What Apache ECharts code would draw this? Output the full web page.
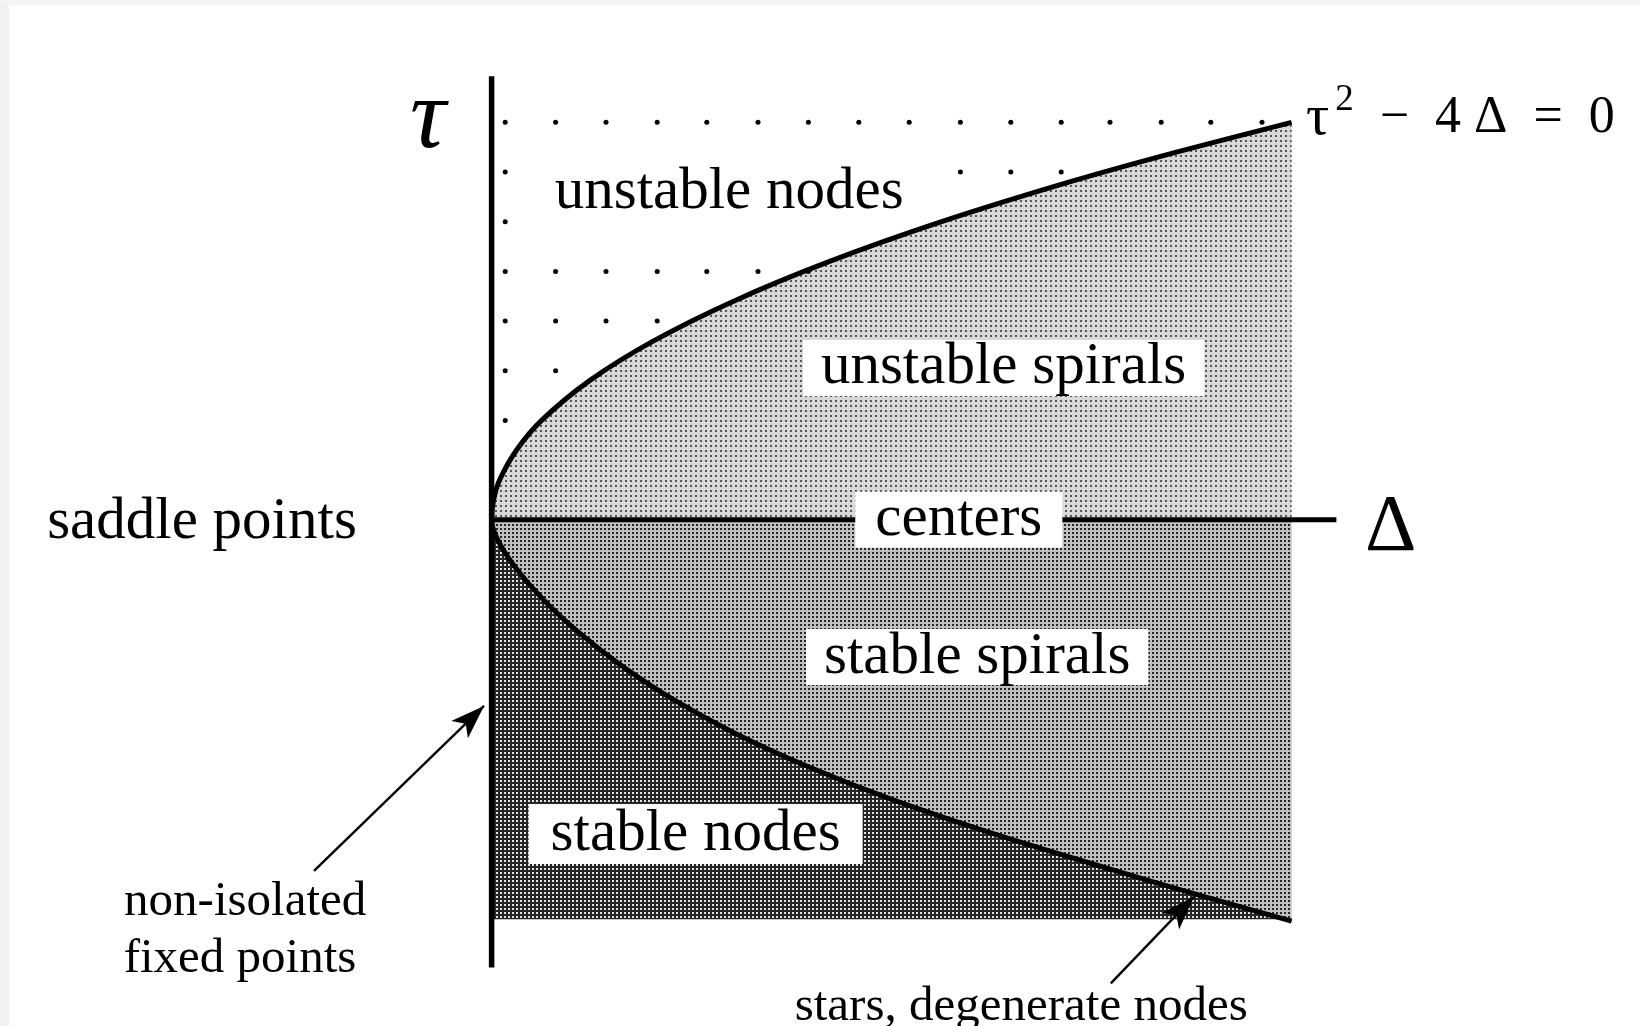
<!DOCTYPE html>
<html>
<head>
<meta charset="utf-8">
<script src="https://cdn.jsdelivr.net/npm/echarts@6/dist/echarts.min.js"></script>
<style>
  html, body { margin: 0; padding: 0; background: #ffffff; }
  #chart { width: 1640px; height: 1026px; }
</style>
</head>
<body>
<div id="chart"></div>
<script>
// ---- data (Δ on x, τ on y) ----
const upperTau   = [0, 0.1, 0.2, 0.35, 0.5, 0.7, 0.9, 1.1, 1.3, 1.5, 1.7, 1.85, 2.0];
const upperDelta = [0, 0.0025, 0.01, 0.031, 0.0625, 0.1225, 0.2025, 0.3025, 0.4225, 0.5625, 0.7225, 0.856, 1.0];
const lowerTau   = [0, -0.1, -0.236, -0.404, -0.571, -0.739, -0.907, -1.074, -1.243, -1.41, -1.58, -1.75, -1.898, -2.02];
const lowerDelta = [0, 0.0075, 0.029, 0.065, 0.110, 0.164, 0.228, 0.304, 0.396, 0.502, 0.627, 0.766, 0.892, 1.0];
const regionRight = 1.0;        // right edge of shaded regions (Δ)
const regionBottom = -2.01;     // bottom edge of stable-node region (τ)
const tauAxisExtent = [-2.253, 2.232];
const deltaAxisExtent = [0, 1.056];

// dot texture of the unstable-node region
const dotRowTau   = [2.0, 1.75, 1.5, 1.25, 1.0, 0.75, 0.5];
const dotRowCount = [16, 12, 9, 7, 4, 2, 1];
const dotColDelta = [0.017, 0.080, 0.143, 0.207, 0.269, 0.333, 0.396, 0.459, 0.522, 0.586, 0.649, 0.712, 0.773, 0.837, 0.899, 0.963];

// labels
const labelTexts = ['unstable nodes', 'unstable spirals', 'centers', 'stable spirals', 'stable nodes',
                    'saddle points', 'non-isolated', 'fixed points', 'stars, degenerate nodes', 'τ', 'Δ', 'formula'];
const labelDelta = [0.292, 0.640, 0.584, 0.607, 0.255, -0.362, -0.308, -0.3145, 0.662, -0.0795, 1.124, 1.211];
const labelTau   = [1.645, 0.764, 0.0, -0.691, -1.582, -0.016, -1.924, -2.210, -2.452, 2.01, -0.045, 2.02];

// arrows
const arrowTail = [[-0.222, -1.767], [0.774, -2.333]];
const arrowTip  = [[-0.0095, -0.937], [0.878, -1.897]];

// ---- helpers ----
function makePattern(size, bg, dot, dotSize) {
  const c = document.createElement('canvas');
  c.width = size; c.height = size;
  const g = c.getContext('2d');
  g.fillStyle = bg; g.fillRect(0, 0, size, size);
  g.fillStyle = dot; g.fillRect(0, 0, dotSize, dotSize);
  return { image: c, repeat: 'repeat' };
}
const patLight  = makePattern(5, '#d8d8d8', '#555555', 2);
const patMedium = makePattern(4, '#c0c0c0', '#262626', 2);
const patDark   = makePattern(4, '#262626', '#e0e0e0', 2);

const upperPts = upperTau.map((t, i) => [upperDelta[i], t]);
const lowerPts = lowerTau.map((t, i) => [lowerDelta[i], t]);
const curvePts = lowerPts.slice().reverse().concat(upperPts.slice(1));

const regions = [
  { pts: upperPts.concat([[regionRight, 0]]), fill: patLight },
  { pts: lowerPts.concat([[regionRight, 0]]), fill: patMedium },
  { pts: lowerPts.concat([[regionRight, regionBottom], [0, regionBottom]]), fill: patDark }
];

const dots = [];
dotRowTau.forEach((t, r) => {
  for (let k = 0; k < dotRowCount[r]; k++) dots.push([dotColDelta[k], t]);
});

const serif = '"Liberation Serif", "DejaVu Serif", serif';
const boxStyle = { backgroundColor: '#ffffff', padding: [0, 20], lineHeight: 56 };
const labelStyles = [
  { fontSize: 59, ...boxStyle, padding: [4, 16, 4, 24] },
  { fontSize: 59, ...boxStyle, padding: [0, 18] },
  { fontSize: 59, ...boxStyle, padding: [0, 20] },
  { fontSize: 59, ...boxStyle, padding: [0, 18] },
  { fontSize: 59, ...boxStyle, padding: [2, 22] },
  { fontSize: 59 },
  { fontSize: 49 },
  { fontSize: 49 },
  { fontSize: 49 },
  { fontSize: 100, fontStyle: 'italic' },
  { fontSize: 80 },
  { fontSize: 52, rich: {
      sup: { fontSize: 37, fontFamily: serif, color: '#000', padding: [0, 0, 36, 6] },
      t: { fontSize: 58, fontFamily: serif, color: '#000' },
      n: { fontSize: 52, fontFamily: serif, color: '#000' } } }
];
const labelData = labelTexts.map((txt, i) => {
  const st = labelStyles[i];
  let formatter = txt;
  if (txt === 'formula') formatter = '{t|τ}{sup|2}{n|  −  4 Δ  =  0}';
  return {
    value: [labelDelta[i], labelTau[i]],
    label: Object.assign({ show: true, position: 'inside', color: '#000', fontFamily: serif, formatter: formatter }, st)
  };
});

const chart = echarts.init(document.getElementById('chart'), null, { renderer: 'canvas' });
chart.setOption({
  animation: false,
  backgroundColor: '#ffffff',
  graphic: [
    { type: 'rect', left: 0, top: 0, z: -1, shape: { width: 9, height: 1026 }, style: { fill: '#f1f1f1' } },
    { type: 'rect', left: 0, top: 0, z: -1, shape: { width: 1640, height: 5 }, style: { fill: '#f4f4f4' } }
  ],
  grid: { left: 11.6, top: 23, width: 1600, height: 993.5 },
  xAxis: { type: 'value', min: -0.6, max: 1.4, show: false },
  yAxis: { type: 'value', min: -2.5, max: 2.5, show: false },
  series: [
    {
      type: 'custom', z: 1, silent: true,
      data: regions.map((r, i) => i),
      renderItem: function (params, api) {
        const r = regions[params.dataIndex];
        return { type: 'polygon', shape: { points: r.pts.map(p => api.coord(p)) }, style: { fill: r.fill } };
      }
    },
    {
      type: 'scatter', z: 2, silent: true, symbol: 'circle', symbolSize: 5,
      itemStyle: { color: '#000', opacity: 1 }, data: dots
    },
    {
      type: 'line', z: 3, silent: true, smooth: 0.3, symbol: 'none',
      lineStyle: { color: '#000', width: 5 }, data: curvePts,
      markLine: {
        silent: true, symbol: ['none', 'arrow'], symbolSize: [18, 34],
        lineStyle: { color: '#000', width: 2.4, type: 'solid', opacity: 1 },
        itemStyle: { color: '#000' },
        label: { show: false },
        data: arrowTail.map((t, i) => [{ coord: t }, { coord: arrowTip[i] }])
      }
    },
    {
      type: 'line', z: 4, silent: true, symbol: 'none',
      lineStyle: { color: '#000', width: 5.5 },
      data: [[0, tauAxisExtent[1]], [0, tauAxisExtent[0]]]
    },
    {
      type: 'line', z: 4, silent: true, symbol: 'none',
      lineStyle: { color: '#000', width: 5 },
      data: [[deltaAxisExtent[0], 0], [deltaAxisExtent[1], 0]]
    },
    {
      type: 'scatter', z: 10, silent: true, symbolSize: 0,
      itemStyle: { opacity: 1 },
      data: labelData
    }
  ]
});
</script>
</body>
</html>
